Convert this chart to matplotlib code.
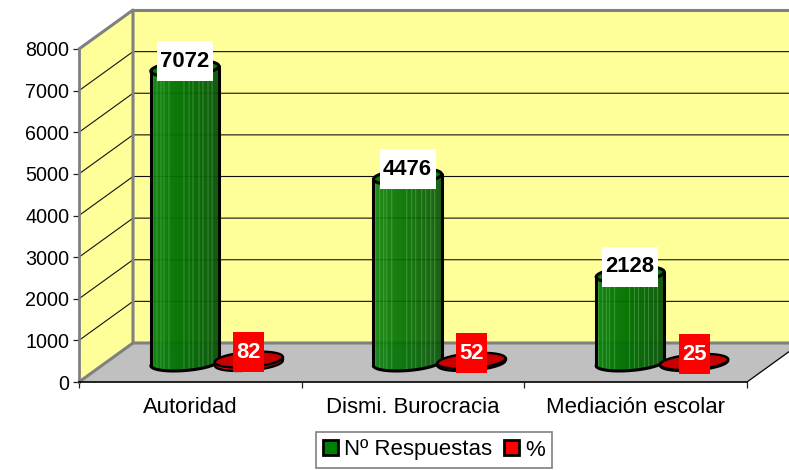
import numpy as np
from matplotlib import pyplot as plt
from matplotlib.patches import Polygon, Rectangle, Patch
from matplotlib.colors import to_rgb

# chart data
categories = ['Autoridad', 'Dismi. Burocracia', 'Mediación escolar']
respuestas = [7072, 4476, 2128]
porcentaje = [82, 52, 25]
y_ticks = [0, 1000, 2000, 3000, 4000, 5000, 6000, 7000, 8000]
legend_labels = ['Nº Respuestas', '%']

plt.rcParams['font.family'] = ['Liberation Sans', 'DejaVu Sans']

W, H = 789, 470
fig = plt.figure(figsize=(W / 100, H / 100), dpi=100)
# axes box = the front face of the 3d box, depth is added on top of it
ax = fig.add_axes([79 / W, (H - 382) / H, 668 / W, 333 / H])
ax.set_xlim(0, 3)
ax.set_ylim(0, 8000)
ax.patch.set_visible(False)


def px_x(p):
    return p * 3 / 668


def px_y(p):
    return p * 8000 / 333


DX = px_x(54)
DY = px_y(39)
YELLOW = '#FFFF99'
GREY = '#808080'


def poly(pts, **kw):
    kw.setdefault('clip_on', False)
    ax.add_patch(Polygon(pts, closed=True, **kw))


def line(xs, ys, **kw):
    ax.plot(xs, ys, clip_on=False, solid_capstyle='round', **kw)


# walls and floor
poly([(DX, DY), (DX + 3, DY), (DX + 3, 8000 + DY), (DX, 8000 + DY)], fc=YELLOW, ec='none', zorder=1)
poly([(0, 0), (DX, DY), (DX, 8000 + DY), (0, 8000)], fc=YELLOW, ec='none', zorder=1)
for v in y_ticks[1:-1]:
    line([0, DX, DX + 3], [v, v + DY, v + DY], color='#111111', lw=0.8, zorder=2)
poly([(0, 0), (3, 0), (3 + DX, DY), (DX, DY)], fc='#C0C0C0', ec='none', zorder=3)
line([0, DX, DX], [8000, 8000 + DY, DY], color=GREY, lw=2.2, zorder=3)
line([DX, DX + 3], [8000 + DY, 8000 + DY], color=GREY, lw=2.2, zorder=3)
line([0, DX, DX + 3], [0, DY, DY], color=GREY, lw=2.2, zorder=3)
line([3, 3 + DX], [0, DY], color='black', lw=0.9, zorder=3)

# light stripes on the cylinder side, as fraction of its width
stripes = [.035, .09, .15, .2, .27, .49, .57, .63, .71, .77, .85, .91]


def ellipse(xc, yc, t):
    # circle seen in the oblique projection of the box
    x = xc + px_x(32.2) * np.cos(t) + px_x(11) * np.sin(t)
    y = yc + px_y(8) * np.sin(t)
    return x, y


def cylinder(xc, value, left, mid, right, top, stripe=None, lw=2.2, zorder=4):
    y0 = px_y(19)
    y1 = y0 + value
    t = np.linspace(0, 2 * np.pi, 361)
    tr = np.arctan2(11, 32.2)
    # front half of the base, from left end to right end
    tb = np.linspace(np.pi + tr, 2 * np.pi + tr, 181)
    bx, by = ellipse(xc, y0, tb)
    frac = (bx - bx[0]) / (bx[-1] - bx[0])
    n = 68
    edges = np.linspace(0, 1, n + 1)
    te = np.interp(edges, frac, tb)
    for i in range(n):
        f = (edges[i] + edges[i + 1]) / 2
        if f < .5:
            c = np.array(to_rgb(left)) * (1 - 2 * f) + np.array(to_rgb(mid)) * 2 * f
        else:
            c = np.array(to_rgb(mid)) * (2 - 2 * f) + np.array(to_rgb(right)) * (2 * f - 1)
        if stripe and any(abs(f - s) < .008 for s in stripes):
            c = c * .65 + np.array(to_rgb(stripe)) * .35
        xa, ya = ellipse(xc, y0, te[i])
        xb, yb = ellipse(xc, y0, te[i + 1])
        poly([(xa, ya), (xb, yb), (xb, yb + value), (xa, ya + value)],
             fc=c, ec=c, lw=0.3, zorder=zorder)
    # outline and top face
    xt, yt = ellipse(xc, y1, t)
    poly(np.column_stack([xt, yt]), fc=top, ec='black', lw=lw, zorder=zorder + .1)
    line(list(bx), list(by), color='black', lw=lw, zorder=zorder + .1)
    line([bx[0], bx[0]], [by[0], by[0] + value], color='black', lw=lw, zorder=zorder + .1)
    line([bx[-1], bx[-1]], [by[-1], by[-1] + value], color='black', lw=lw, zorder=zorder + .1)


def value_label(xc, value, fc, tc):
    y = px_y(19) + value + px_y(7.5)
    n = len(str(value))
    w = px_x(6 + 12.5 * n)
    ax.add_patch(Rectangle((xc - w / 2, y - px_y(20)), w, px_y(40), fc=fc, ec='none',
                           clip_on=False, zorder=6))
    ax.text(xc, y, str(value), color=tc, fontsize=15.8, fontweight='bold',
            ha='center', va='center', zorder=7)


for i in range(3):
    group = i + .5 + px_x(26.5)
    cylinder(group - px_x(32), respuestas[i], '#0C820C', '#006E00', '#0A550A', '#0A780A', stripe='#8CCC8C')
    cylinder(group + px_x(32), porcentaje[i], '#FF0000', '#E00000', '#A00000', '#C80000', lw=1.7, zorder=4.5)
    value_label(group - px_x(32), respuestas[i], 'white', 'black')
    value_label(group + px_x(32), porcentaje[i], '#FF0000', 'white')

# axes
for s in ['top', 'right']:
    ax.spines[s].set_visible(False)
ax.spines['left'].set_color(GREY)
ax.spines['left'].set_linewidth(2.0)
ax.spines['bottom'].set_color('black')
ax.spines['bottom'].set_linewidth(1.2)
ax.spines['left'].set_zorder(3.5)
ax.spines['bottom'].set_zorder(3.5)
ax.set_yticks(y_ticks)
ax.set_xticks([0, 1, 2, 3])
ax.set_xticklabels([])
ax.set_xticks([.5, 1.5, 2.5], categories, minor=True)
ax.tick_params(axis='y', length=4.5, width=0.9, color='#222222', labelsize=14.2, pad=2.5)
ax.tick_params(axis='x', which='major', length=4.5, width=0.9, color='#222222')
ax.tick_params(axis='x', which='minor', length=0, labelsize=15.9, pad=11)

handles = [Patch(fc='#008000', ec='black', lw=2.0), Patch(fc='#FF0000', ec='black', lw=2.0)]
leg = fig.legend(handles, legend_labels, loc='center', bbox_to_anchor=(434 / W, (H - 450) / H),
                 ncol=2, fontsize=16, frameon=True, fancybox=False, framealpha=1,
                 edgecolor=GREY, handlelength=0.68, handleheight=0.68, handletextpad=0.25,
                 columnspacing=0.55, borderpad=0.32, borderaxespad=0)
leg.get_frame().set_linewidth(1.2)

plt.savefig('out.png', dpi=100)
